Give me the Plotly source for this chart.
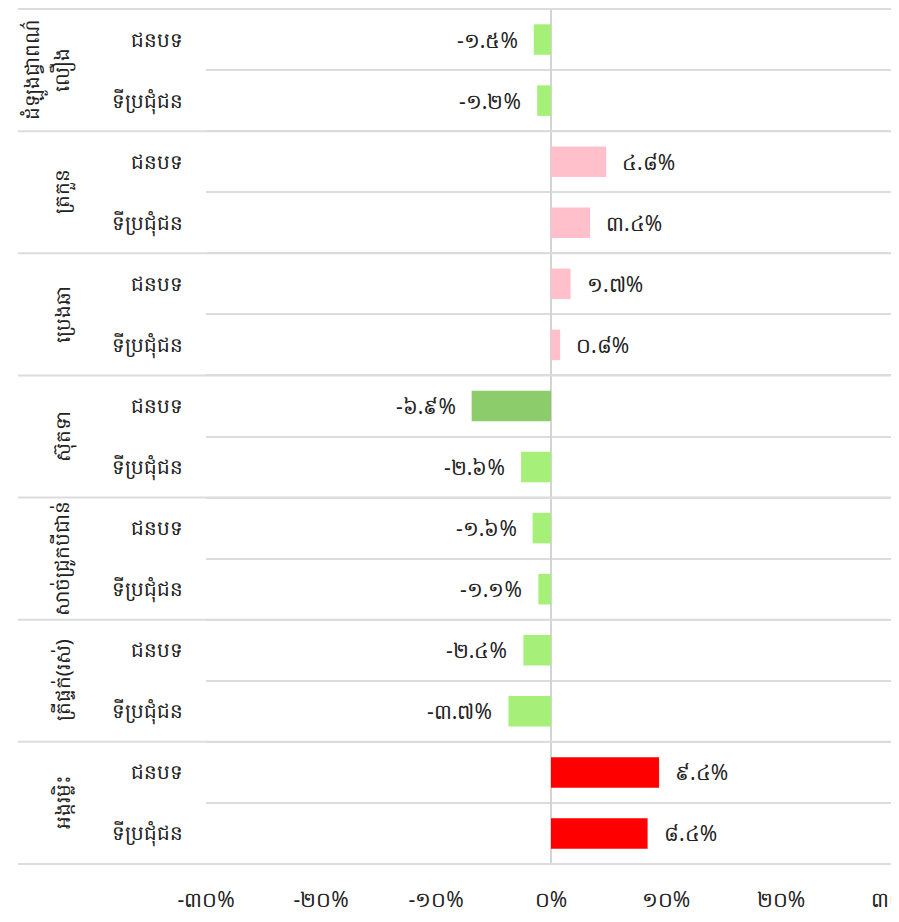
import plotly.graph_objects as go

# ---- data ----
groups = ["ដំឡូងជ្វាពណ៌<br>លឿង", "ត្រកួន", "ប្រេងឆា", "ស៊ុតទា",
          "សាច់ជ្រូកបីជាន់", "ត្រីផ្ទក់(រស់)", "អង្ករម្លិះ"]
areas = ["ជនបទ", "ទីប្រជុំជន"]
rural_vals = [-1.5, 4.8, 1.7, -6.9, -1.6, -2.4, 9.4]
urban_vals = [-1.2, 3.4, 0.8, -2.6, -1.1, -3.7, 8.4]
x_ticks = [-30, -20, -10, 0, 10, 20, 30]

KHMER = str.maketrans("0123456789", "០១២៣៤៥៦៧៨៩")


def kh(s):
    return s.translate(KHMER)


keys, inner, vals = [], [], []
for gi, (r, u) in enumerate(zip(rural_vals, urban_vals)):
    for a, v in zip(areas, (r, u)):
        keys.append(f"{gi}|{a}")
        inner.append(a)
        vals.append(v)


def color_for(v):
    if v >= 5:
        return "#ff0000"
    if v >= 0:
        return "#ffc0cb"
    if v > -5:
        return "#a6f07a"
    return "#8ccc6a"


colors = [color_for(v) for v in vals]
texts = [kh(f"{v:.1f}%") for v in vals]

TXT = "#222222"
GRID = "#dcdcdc"

W, H = 891, 906
L, R, T, B = 198, 0, 0, 49
plot_w = W - L - R

fig = go.Figure(go.Bar(
    x=vals,
    y=keys,
    orientation="h",
    marker=dict(color=colors, line=dict(width=0)),
    hoverinfo="skip",
))

annotations = []
# value labels
for k, v, t in zip(keys, vals, texts):
    annotations.append(dict(
        x=v, y=k, xref="x", yref="y", text=t, showarrow=False,
        xanchor="left" if v >= 0 else "right",
        xshift=14 if v >= 0 else -14,
        font=dict(size=21, color=TXT),
    ))
# rotated group labels (each line placed separately for wider line spacing)
label_right = -128 / plot_w
for gi, g in enumerate(groups):
    lines = g.split("<br>")
    n = len(lines)
    for j, line in enumerate(lines):
        annotations.append(dict(
            x=label_right, y=2 * gi + 0.5, xref="paper", yref="y", text=line,
            showarrow=False, textangle=-90, xanchor="right", yanchor="middle",
            xshift=-28 * (n - 1 - j),
            font=dict(size=20, color=TXT),
        ))

shapes = []
div_left = -188 / plot_w
for gi in range(len(groups) + 1):
    shapes.append(dict(
        type="line", xref="paper", yref="y",
        x0=div_left, x1=1, y0=2 * gi - 0.5, y1=2 * gi - 0.5,
        line=dict(color=GRID, width=2),
    ))

fig.update_layout(
    width=W, height=H,
    margin=dict(l=L, r=R, t=T, b=B),
    plot_bgcolor="white", paper_bgcolor="white",
    bargap=0.5,
    showlegend=False,
    font=dict(family="Noto Sans, DejaVu Sans, sans-serif", size=20, color=TXT),
    annotations=annotations,
    shapes=shapes,
)
fig.update_xaxes(
    range=[-30, -30 + plot_w / 11.5],
    tickvals=x_ticks,
    ticktext=[kh(f"{t}%") for t in x_ticks],
    showgrid=False,
    zeroline=True, zerolinecolor="#d4d4d4", zerolinewidth=2,
    tickfont=dict(size=21, color=TXT),
    ticks="", showline=False,
    ticklabelstandoff=20,
    ticklabeloverflow="allow",
    automargin=False,
)
fig.update_yaxes(
    autorange="reversed",
    tickvals=keys, ticktext=inner,
    showgrid=True, gridcolor=GRID, gridwidth=2,
    tickson="boundaries",
    tickfont=dict(size=20, color=TXT),
    ticks="", showline=False,
    ticklabelstandoff=22,
    automargin=False,
)

fig.write_html("out.html")
